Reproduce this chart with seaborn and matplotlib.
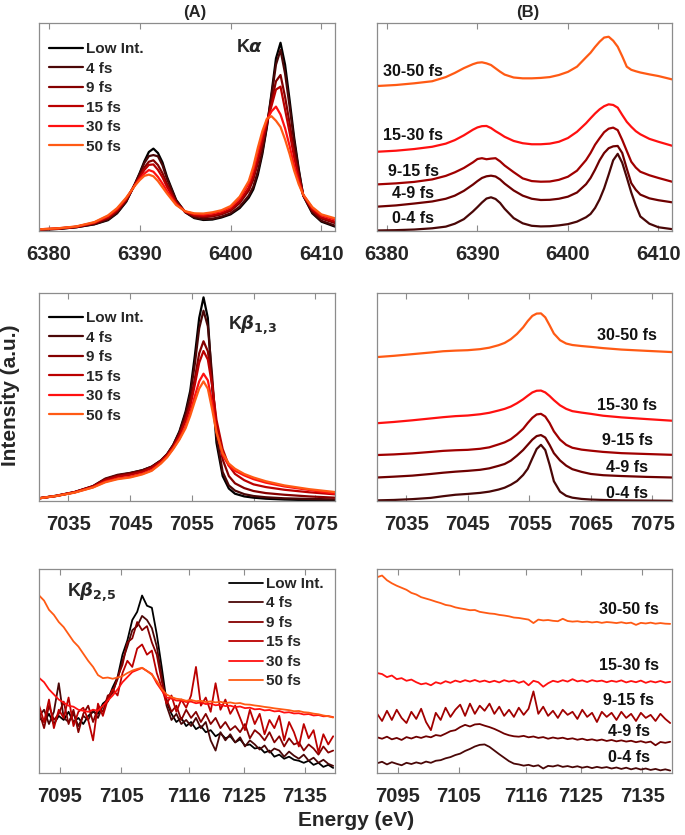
import matplotlib
matplotlib.use("Agg")
import matplotlib.pyplot as plt
import seaborn as sns
import numpy as np

sns.set_theme(style="white")
plt.rcParams["font.family"] = ["Liberation Sans", "DejaVu Sans"]
plt.rcParams["font.weight"] = "bold"
plt.rcParams["mathtext.fontset"] = "dejavusans"

# ---------------- labels / colours ----------------
SERIES_A = ["Low Int.", "4 fs", "9 fs", "15 fs", "30 fs", "50 fs"]
COLORS_A = ["#000000", "#4a0707", "#850000", "#bb0000", "#ff1010", "#ff5a14"]
SERIES_B = ["0-4 fs", "4-9 fs", "9-15 fs", "15-30 fs", "30-50 fs"]
COLORS_B = ["#4a0707", "#6e0000", "#a00000", "#ff1010", "#ff5a14"]

XTICKS_KA = [6380, 6390, 6400, 6410]
XTICKS_KB = [7035, 7045, 7055, 7065, 7075]
XTICKS_VTC = [7095, 7105, 7116, 7125, 7135]

# ---------------- K alpha ----------------
E_KA = [6378.9, 6381, 6383, 6385, 6386.5, 6387.5, 6388.5, 6389.5, 6390, 6390.5,
        6391, 6391.5, 6392, 6392.5, 6393, 6394, 6395, 6396, 6397, 6398,
        6399, 6400, 6401, 6402, 6402.5, 6403, 6403.5, 6404, 6404.5, 6405,
        6405.5, 6406, 6406.5, 6407, 6407.5, 6408, 6409, 6410, 6411.5]
KA_LOW = [0.6, 1.0, 1.8, 3.2, 5.2, 8.5, 14.0, 23.0, 28.0, 33.5, 38.0, 39.6, 37.5, 33.0, 26.0, 15.0, 9.0, 6.2, 5.3, 5.5,
          6.5, 8.0, 11.0, 16.0, 20.0, 27.0, 37.0, 50.0, 66.0, 83.0, 90.5, 80.0, 63.0, 45.0, 30.0, 17.0, 8.5, 4.5, 2.1]
KA_4 = [0.6, 1.0, 1.8, 3.3, 5.5, 8.8, 14.2, 22.9, 27.6, 32.7, 36.0, 36.5, 35.9, 31.6, 25.0, 14.7, 9.1, 6.5, 5.7, 5.9,
        6.9, 8.5, 11.7, 17.0, 21.3, 28.6, 38.3, 50.5, 64.7, 80.0, 87.0, 75.7, 59.9, 43.1, 29.1, 17.1, 8.9, 4.9, 2.6]
KA_9 = [0.7, 1.1, 2.0, 3.7, 6.2, 9.6, 14.9, 22.6, 26.5, 30.5, 33.3, 34.0, 31.7, 27.8, 22.6, 13.9, 9.2, 7.2, 6.6, 7.0,
        8.0, 9.7, 13.4, 19.4, 24.7, 32.6, 41.7, 51.7, 62.0, 72.0, 75.0, 64.5, 51.8, 38.1, 26.8, 17.2, 9.8, 6.0, 3.8]
KA_15 = [0.7, 1.2, 2.0, 3.9, 6.6, 10.0, 15.2, 22.4, 25.9, 29.3, 31.8, 32.0, 29.4, 25.8, 21.2, 13.5, 9.3, 7.6, 7.2, 7.6,
         8.6, 10.4, 14.3, 20.8, 26.6, 34.8, 43.6, 52.4, 60.0, 68.0, 69.4, 58.4, 47.4, 35.4, 25.5, 17.3, 10.3, 6.6, 4.5]
KA_30 = [0.8, 1.3, 2.1, 4.1, 7.2, 10.6, 15.7, 22.2, 25.0, 27.6, 29.3, 28.5, 26.0, 22.8, 19.2, 12.9, 9.4, 8.2, 7.9, 8.5,
         9.5, 11.4, 15.7, 22.8, 29.4, 38.0, 46.4, 53.4, 57.5, 59.8, 56.0, 49.4, 40.9, 31.4, 23.6, 17.4, 11.1, 7.5, 5.5]
KA_50 = [0.8, 1.3, 2.2, 4.3, 7.5, 11.0, 16.0, 22.0, 24.5, 26.5, 27.1, 26.3, 24.0, 21.0, 18.0, 12.5, 9.5, 8.5, 8.4, 9.0,
         10.0, 12.0, 16.5, 24.0, 31.0, 40.0, 48.0, 54.0, 55.2, 53.0, 50.0, 44.0, 37.0, 29.0, 22.5, 17.5, 11.5, 8.0, 6.1]

KA_D04 = [0.25, 0.4, 0.7, 1.3, 2.1, 3.5, 5.7, 9.4, 11.5, 13.7, 15.6, 16.2, 15.4, 13.5, 10.7, 6.2, 3.7, 2.5, 2.2, 2.3,
          2.7, 3.3, 4.5, 6.6, 8.2, 11.1, 15.2, 20.5, 27.1, 34.0, 37.1, 32.8, 25.8, 18.5, 12.3, 7.0, 3.5, 1.8, 0.9]
KA_D49 = [11.7, 12.3, 13.2, 14.2, 15.5, 17.0, 19.3, 22.3, 24.0, 25.5, 26.3, 26.6, 26.2, 24.8, 22.8, 19.5, 17.0, 15.5, 14.9, 15.0,
          15.5, 16.5, 18.5, 22.5, 25.5, 29.5, 34.0, 37.5, 39.8, 40.7, 40.9, 37.5, 30.0, 23.0, 19.8, 17.5, 15.7, 14.8, 13.8]
KA_D915 = [22.4, 22.9, 23.6, 24.8, 26.5, 28.2, 30.3, 33.0, 34.6, 35.0, 34.5, 34.8, 35.0, 33.5, 31.5, 28.3, 25.3, 24.0, 23.7, 23.8,
           24.6, 26.1, 29.0, 34.1, 37.5, 41.5, 44.6, 47.5, 49.2, 49.7, 48.5, 43.8, 38.5, 33.3, 30.5, 28.5, 26.8, 25.5, 23.7]
KA_D1530 = [38.1, 38.6, 39.4, 40.5, 42.0, 43.7, 46.0, 48.7, 49.8, 50.4, 50.5, 49.5, 48.0, 46.7, 45.3, 43.3, 42.2, 41.7, 41.7, 42.0,
            42.9, 44.7, 47.7, 51.8, 54.2, 56.5, 58.5, 60.0, 60.9, 60.6, 59.3, 55.8, 52.5, 50.1, 48.0, 46.5, 44.3, 42.9, 41.0]
KA_D3050 = [69.7, 70.2, 71.0, 72.0, 74.0, 76.0, 78.3, 80.2, 80.9, 81.1, 80.6, 79.8, 78.2, 76.6, 75.2, 73.8, 73.4, 73.4, 73.6, 74.0,
            75.0, 76.5, 79.0, 83.5, 85.7, 88.5, 91.0, 93.0, 93.4, 91.5, 88.6, 84.0, 79.0, 77.5, 76.8, 76.2, 75.3, 74.5, 72.9]

# ---------------- K beta 1,3 ----------------
E_KB = [7030.25, 7033, 7036, 7039, 7041, 7043, 7045, 7047, 7048.5, 7050,
        7051, 7052, 7053, 7054, 7054.75, 7055.5, 7056.2, 7056.9, 7057.6, 7058.3,
        7059, 7060, 7061, 7062, 7063.5, 7065, 7067, 7070, 7074, 7078.2]
KB_LOW = [1.3, 2.4, 4.2, 7.0, 10.5, 12.3, 13.4, 14.8, 16.5, 19.5, 22.5, 27.0, 33.5, 43.0, 53.0,
          70.0, 88.0, 97.9, 88.0, 55.0, 28.0, 12.0, 6.0, 3.5, 2.2, 1.6, 1.1, 0.7, 0.4, 0.2]
KB_4 = [1.3, 2.5, 4.3, 7.2, 10.8, 12.6, 13.5, 14.8, 16.5, 19.5, 22.5, 27.0, 33.0, 42.0, 51.0,
        66.0, 83.0, 91.5, 84.0, 60.0, 31.0, 14.0, 7.5, 5.0, 3.3, 2.4, 1.8, 1.3, 1.0, 0.8]
KB_9 = [1.3, 2.5, 4.3, 7.1, 10.5, 12.2, 13.2, 14.5, 16.3, 19.3, 22.3, 26.5, 32.0, 40.0, 47.5,
        59.0, 71.0, 76.8, 72.0, 57.0, 36.0, 20.0, 12.0, 8.5, 6.2, 4.8, 3.8, 3.0, 2.2, 1.6]
KB_15 = [1.3, 2.4, 4.2, 6.9, 10.0, 11.7, 12.6, 14.0, 15.8, 19.0, 22.0, 26.0, 31.5, 38.5, 45.5,
         56.0, 66.5, 72.1, 68.0, 55.5, 39.0, 25.0, 17.0, 13.0, 10.0, 8.0, 6.7, 5.4, 4.2, 3.2]
KB_30 = [1.3, 2.4, 4.1, 6.6, 9.3, 10.8, 11.6, 13.1, 14.8, 18.3, 21.3, 25.3, 30.0, 36.0, 42.5,
         50.5, 57.5, 61.2, 58.0, 47.5, 33.5, 22.0, 17.0, 14.5, 12.3, 10.5, 8.8, 7.0, 5.3, 3.5]
KB_50 = [1.3, 2.4, 4.0, 6.5, 9.0, 10.5, 11.3, 12.8, 14.5, 18.0, 21.0, 25.0, 29.5, 35.0, 41.0,
         48.0, 54.0, 57.5, 54.0, 44.0, 33.0, 23.0, 18.0, 15.5, 13.0, 11.3, 9.5, 7.5, 5.7, 4.3]

KB_D04 = [0.3, 0.5, 0.9, 1.5, 2.3, 3.0, 3.4, 3.9, 4.5, 5.5, 6.4, 7.8, 9.6, 12.5, 15.5,
          20.5, 25.0, 27.0, 24.5, 17.5, 9.5, 4.5, 2.5, 1.6, 1.0, 0.7, 0.5, 0.3, 0.2, 0.1]
KB_D49 = [11.3, 11.7, 12.2, 13.0, 13.6, 14.1, 14.5, 15.0, 15.7, 16.9, 17.8, 19.4, 21.8, 24.5, 27.0,
          29.5, 31.2, 31.7, 30.5, 27.0, 23.0, 19.5, 17.0, 15.3, 14.0, 13.0, 12.4, 12.0, 11.6, 11.3]
KB_D915 = [22.1, 22.4, 22.9, 23.6, 24.1, 24.4, 24.6, 25.1, 25.8, 27.2, 28.2, 29.7, 32.0, 34.7, 37.5,
           40.0, 41.6, 41.9, 40.6, 37.5, 33.5, 29.5, 27.0, 25.6, 24.7, 24.2, 23.6, 23.0, 22.6, 22.2]
KB_D1530 = [37.4, 38.0, 38.8, 39.7, 40.3, 40.8, 41.1, 41.7, 42.4, 43.5, 44.3, 45.4, 47.0, 48.9, 50.6,
            52.2, 53.0, 53.1, 52.2, 50.5, 48.5, 46.0, 44.3, 43.2, 42.5, 41.9, 41.0, 40.2, 39.4, 38.6]
KB_D3050 = [69.2, 69.8, 70.6, 71.4, 72.0, 72.3, 72.5, 73.0, 73.7, 74.9, 76.0, 77.8, 80.3, 83.5, 86.5,
            89.0, 90.1, 90.2, 88.3, 84.5, 80.5, 77.3, 75.7, 75.0, 74.5, 74.1, 73.5, 72.8, 72.2, 71.6]

# ---------------- K beta 2,5 (valence to core) ----------------
E_VTC = [7091.6, 7092.4, 7093.2, 7094.0, 7094.8, 7095.6, 7096.4, 7097.2, 7098.0, 7098.8,
         7099.6, 7100.4, 7101.2, 7102.0, 7102.8, 7103.6, 7104.4, 7105.2, 7106.0, 7106.8,
         7107.6, 7108.4, 7109.2, 7110.0, 7110.8, 7111.6, 7112.4, 7113.2, 7114.0, 7114.8,
         7115.6, 7116.4, 7117.2, 7118.0, 7118.8, 7119.6, 7120.4, 7121.2, 7122.0, 7122.8,
         7123.6, 7124.4, 7125.2, 7126.0, 7126.8, 7127.6, 7128.4, 7129.2, 7130.0, 7130.8,
         7131.6, 7132.4, 7133.2, 7134.0, 7134.8, 7135.6, 7136.4, 7137.2, 7138.0, 7138.8,
         7139.6]
VTC_LOW = [27, 25, 29, 24, 28, 26, 30, 25, 27, 24,
           28, 30, 29, 34, 36, 42, 47, 58, 65, 75,
           79, 87, 82, 81, 68, 52, 35, 29, 25, 27,
           23, 25, 21.5, 23, 20, 21, 18, 19.5, 17, 18,
           15, 16.5, 13.5, 14, 12, 12.5, 10, 11, 8, 9,
           7, 8, 6.5, 6, 5, 6, 4, 5, 3, 4,
           2.5]
VTC_4 = [28, 31, 24, 30, 44, 27, 25, 29, 23, 28,
         26, 31, 27, 33, 35, 40, 46, 55, 62, 70,
         72, 77, 75, 71, 62, 48, 33, 26, 29, 24,
         26, 23, 27, 22, 25, 16, 11, 20, 16, 19,
         15, 17.5, 13, 16, 14, 11.5, 13.5, 10, 12, 11,
         8, 10.5, 8.5, 7, 9, 6, 7.5, 5, 6.5, 4.5,
         3.5]
VTC_9 = [30, 22, 33, 26, 29, 35, 24, 31, 20, 29,
         33, 25, 32, 30, 38, 39, 47, 53, 64, 66,
         74, 70, 72, 64, 58, 45, 36, 30, 33, 26,
         31, 27, 30, 25, 29, 24, 27, 22, 25, 21,
         23, 20, 24, 17, 21, 19, 16, 20, 15, 18,
         13, 17, 14, 15, 11, 14, 12, 9, 13, 10,
         11]
VTC_15 = [33, 25, 36, 22, 31, 27, 37, 23, 30, 32,
          26, 16, 34, 28, 36, 41, 38, 49, 55, 52,
          61, 63, 58, 60, 49, 42, 34, 38, 30, 36,
          32, 38, 52, 33, 37, 30, 44, 31, 36, 29,
          33, 27, 21, 31, 24, 29, 19, 26, 22, 28,
          16, 25, 20, 13, 24, 17, 21, 10, 19, 14,
          18]
VTC_30 = [46.6, 44.5, 41, 38.5, 36, 34.5, 33, 32.5, 31, 30.5,
          30, 31, 30.5, 33, 35.5, 38, 41, 44.5, 47, 49.5,
          50.5, 51.5, 50, 48.5, 44, 40.5, 37, 36.5, 35.5, 35.5,
          34.8, 35, 34.2, 34.6, 33.8, 34, 33.2, 33.5, 32.8, 33,
          32.3, 32.6, 31.8, 32, 31.2, 31.4, 30.7, 30.9, 30.2, 30.4,
          29.6, 29.8, 29.2, 29.3, 28.7, 28.9, 28.2, 28.4, 27.8, 27.9,
          27.4]
VTC_50 = [87, 84.5, 80, 77.5, 74, 71.5, 68, 64.5, 62, 58.5,
          55, 52, 48, 46.5, 46.8, 46.2, 46.8, 47.5, 49, 50.2,
          51, 51.6, 50, 48.2, 45, 41.2, 38.5, 37.2, 36.4, 36.1,
          35.4, 35.8, 35.2, 35.4, 34.8, 35.1, 34.6, 34.9, 34.3, 34.6,
          34.1, 34.3, 33.6, 33.5, 33.1, 32.8, 32.4, 32.1, 31.7, 31.4,
          31.1, 30.8, 30.3, 30.4, 29.8, 29.6, 29.1, 28.8, 28.2, 27.8,
          27.2]

VTC_D04 = [4.8, 5.5, 4.2, 5.3, 4.5, 3.8, 5.0, 4.4, 5.2, 4.6,
           5.6, 5.0, 6.0, 6.3, 7.2, 7.8, 8.8, 9.5, 10.8, 11.8,
           13.0, 13.8, 14.0, 12.8, 11.0, 9.2, 7.5, 5.8, 4.6, 4.2,
           3.6, 4.0, 3.3, 3.8, 2.2, 3.5, 3.2, 3.8, 3.0, 3.4,
           2.8, 3.3, 2.6, 3.1, 2.4, 3.0, 2.5, 2.9, 2.2, 2.7,
           2.0, 2.6, 1.8, 2.4, 1.7, 2.2, 1.5, 2.0, 1.3, 1.8,
           1.2]
VTC_D49 = [17.5, 16.8, 17.8, 16.5, 17.2, 16.2, 17.6, 16.9, 17.8, 17.2,
           18.0, 17.5, 18.6, 18.2, 19.3, 20.5, 21.0, 22.5, 23.6, 22.8,
           23.8, 24.0, 23.2, 22.5, 21.6, 20.5, 19.3, 18.5, 18.0, 17.8,
           18.2, 17.5, 17.9, 17.2, 17.6, 16.8, 17.4, 16.9, 17.3, 16.6,
           17.0, 16.3, 16.8, 16.1, 16.5, 15.9, 16.4, 15.7, 16.2, 15.5,
           16.0, 15.4, 15.8, 15.1, 15.6, 14.9, 15.4, 13.6, 15.2, 14.8,
           15.3]
VTC_D915 = [29, 25.5, 30.5, 26, 31, 27, 24.5, 30, 26.5, 31.5,
            25, 21, 29.5, 26, 32, 27.5, 31, 33.5, 28, 34,
            29, 33, 30.5, 34, 29, 32.5, 28, 31, 27.5, 32,
            28.5, 31.5, 40, 29, 32.5, 28, 30.5, 27, 31, 28.5,
            30, 26.5, 31, 27.5, 29.5, 25, 30, 27.5, 29.5, 26,
            30, 27, 29, 25.5, 29.5, 27, 28.5, 25.5, 29, 26.5,
            24.5]
VTC_D1530 = [49, 48.5, 47, 47.8, 46, 46.5, 45.2, 45.8, 44.5, 43.5,
             44, 43, 44.5, 43.8, 45, 44.2, 45.3, 44.6, 45.5, 44.8,
             45.6, 44.7, 45.3, 44.5, 45.2, 44.4, 45.5, 44.8, 45.3, 44.2,
             45, 43, 45.2, 44.5, 42.3, 44, 45.2, 44.6, 45.5, 44.8,
             46, 44.9, 45.4, 44.6, 45.5, 44.9, 45.3, 44.5, 45.2, 44.7,
             45.4, 44.4, 45.1, 44.5, 45.3, 44.2, 45, 44.4, 45.1, 44.3,
             44.7]
VTC_D3050 = [96, 96.8, 94.5, 93, 91.8, 90.8, 89.8, 88.3, 87.5, 86.2,
             85.5, 84.8, 84, 83.3, 82.4, 82, 81.2, 80.7, 80.3, 79.8,
             79.9, 79, 78.6, 78.2, 78, 77.5, 77.2, 76.8, 76.2, 76,
             75.6, 75.2, 73.5, 75.2, 74.8, 75, 74.6, 74.4, 75.6, 74.5,
             74.2, 74.4, 74, 74.2, 73.8, 74.1, 73.6, 74, 73.8, 73.5,
             73.9, 73.4, 73.7, 72.6, 73.6, 73.3, 73.7, 73.2, 73.5, 73.2,
             73.1]

# ---------------- figure ----------------
W, H = 685, 835
fig = plt.figure(figsize=(W / 100, H / 100), dpi=100)


def add_ax(l, t, r, b):
    return fig.add_axes([l / W, 1 - b / H, (r - l) / W, (b - t) / H])


def style(ax, xlim, xticks):
    ax.set_xlim(*xlim)
    ax.set_ylim(0, 100)
    ax.set_xticks(xticks)
    ax.set_xticklabels([str(t) for t in xticks])
    ax.set_yticks([])
    ax.set_xlabel("")
    ax.set_ylabel("")
    ax.tick_params(axis="x", direction="in", top=True, bottom=True, length=4,
                   width=0.8, color="#8c8c8c", labelsize=14.5, pad=10,
                   labelcolor="#262626")
    for lab in ax.get_xticklabels():
        lab.set_fontweight("bold")
    for sp in ax.spines.values():
        sp.set_color("#8c8c8c")
        sp.set_linewidth(0.9)


def draw_a(ax, x, ys, lw):
    for y, lab, c in zip(ys, SERIES_A, COLORS_A):
        sns.lineplot(x=x, y=y, ax=ax, color=c, linewidth=lw, label=lab, sort=False)


def draw_b(ax, x, ys, lw):
    for y, c in zip(ys, COLORS_B):
        sns.lineplot(x=x, y=y, ax=ax, color=c, linewidth=lw, sort=False, legend=False)


def legend(ax, anchor):
    ax.legend(loc="upper left", bbox_to_anchor=anchor, frameon=False,
              prop={"size": 11, "weight": "bold"}, handlelength=2.2,
              handletextpad=0.2, labelspacing=0.36, borderaxespad=0.0,
              borderpad=0.4)


def blabels(ax, x, ys):
    for y, lab in zip(ys, SERIES_B):
        ax.text(x, y, lab, ha="center", va="center", fontsize=11.5,
                fontweight="bold", color="#111111")


XL_KA = (6378.9, 6411.5)
XL_KB = (7030.25, 7078.2)
XL_VTC = (7091.57, 7139.9)

# Row 1
a1 = add_ax(39, 23, 335, 231)
draw_a(a1, E_KA, [KA_LOW, KA_4, KA_9, KA_15, KA_30, KA_50], 1.6)
style(a1, XL_KA, XTICKS_KA)
legend(a1, (0.014, 0.938))
a1.text(6400.6, 88.2, r"K$\alpha$", ha="left", va="center", fontsize=13, fontweight="bold")

b1 = add_ax(377, 23, 672, 231)
draw_b(b1, E_KA, [KA_D04, KA_D49, KA_D915, KA_D1530, KA_D3050], 1.6)
style(b1, XL_KA, XTICKS_KA)
blabels(b1, 6382.9, [5.8, 17.8, 28.5, 45.8, 76.9])

# Row 2
a2 = add_ax(39, 293, 335, 501)
draw_a(a2, E_KB, [KB_LOW, KB_4, KB_9, KB_15, KB_30, KB_50], 1.6)
style(a2, XL_KB, XTICKS_KB)
legend(a2, (0.014, 0.942))
a2.text(7060.8, 85.0, r"K$\beta_{\mathbf{1{,}3}}$", ha="left", va="center", fontsize=13, fontweight="bold")

b2 = add_ax(377, 293, 672, 501)
draw_b(b2, E_KB, [KB_D04, KB_D49, KB_D915, KB_D1530, KB_D3050], 1.6)
style(b2, XL_KB, XTICKS_KB)
blabels(b2, 7070.9, [3.7, 16.1, 29.0, 45.9, 79.7])

# Row 3
a3 = add_ax(39, 569, 335, 773)
draw_a(a3, E_VTC, [VTC_LOW, VTC_4, VTC_9, VTC_15, VTC_30, VTC_50], 1.3)
style(a3, XL_VTC, XTICKS_VTC)
legend(a3, (0.622, 0.991))
a3.text(7096.1, 89.0, r"K$\beta_{\mathbf{2{,}5}}$", ha="left", va="center", fontsize=13, fontweight="bold")

b3 = add_ax(377, 569, 672, 773)
draw_b(b3, E_VTC, [VTC_D04, VTC_D49, VTC_D915, VTC_D1530, VTC_D3050], 1.3)
style(b3, XL_VTC, XTICKS_VTC)
blabels(b3, 7132.8, [7.5, 20.1, 35.3, 52.5, 80.2])

# Titles and axis labels
fig.text(195 / W, 1 - 12 / H, "(A)", ha="center", va="center", fontsize=12, fontweight="bold")
fig.text(528 / W, 1 - 12 / H, "(B)", ha="center", va="center", fontsize=12, fontweight="bold")
fig.text(11 / W, 1 - 395 / H, "Intensity (a.u.)", rotation=90, ha="center", va="center",
         fontsize=15, fontweight="bold", color="#262626")
fig.text(356 / W, 1 - 821 / H, "Energy (eV)", ha="center", va="center",
         fontsize=15, fontweight="bold", color="#262626")

fig.savefig("out.png", dpi=100)
